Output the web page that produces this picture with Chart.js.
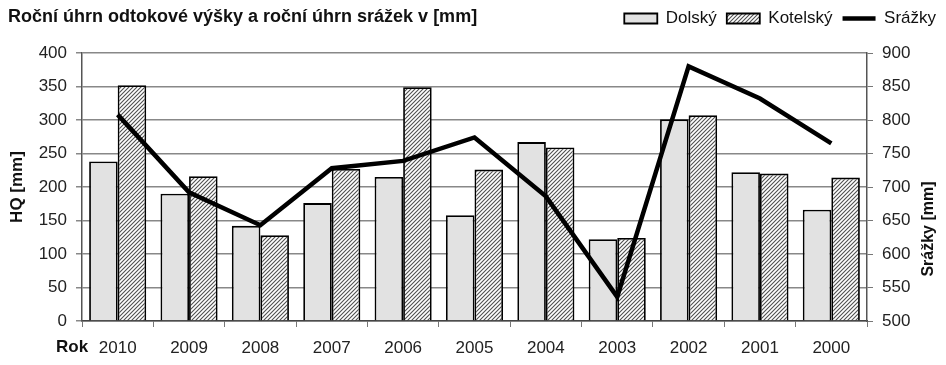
<!DOCTYPE html>
<html>
<head>
<meta charset="utf-8">
<script src="https://cdn.jsdelivr.net/npm/chart.js@4.4.0/dist/chart.umd.min.js"></script>
<style>
  html, body { margin: 0; padding: 0; background: #fff; }
  #wrap { width: 946px; height: 365px; position: relative; }
</style>
</head>
<body>
<div id="wrap"><canvas id="chart"></canvas></div>
<script>
// data
const years = ['2010', '2009', '2008', '2007', '2006', '2005', '2004', '2003', '2002', '2001', '2000'];
const dolsky = [238, 190, 142, 176, 215, 158, 267, 122, 301, 222, 166];
const kotelsky = [352, 216, 128, 227, 349, 226, 259, 124, 307, 220, 214];
const srazky = [808, 692, 643, 728, 739, 774, 686, 536, 880, 832, 765];

const FONT = "'Liberation Sans', Arial, sans-serif";

// hatched fill for Kotelský
function hatch() {
  const c = document.createElement('canvas');
  c.width = 4; c.height = 4;
  const x = c.getContext('2d');
  x.fillStyle = '#fff';
  x.fillRect(0, 0, 4, 4);
  x.strokeStyle = '#505050';
  x.lineWidth = 1.1;
  x.beginPath();
  x.moveTo(-1, 5); x.lineTo(5, -1);
  x.moveTo(-1, 1); x.lineTo(1, -1);
  x.moveTo(3, 5); x.lineTo(5, 3);
  x.stroke();
  return x.createPattern(c, 'repeat');
}
const hatchFill = hatch();

// keep the plot top at the same height as in the picture
const legendSpace = {
  id: 'legendSpace',
  beforeLayout(chart) {
    const lg = chart.legend;
    if (lg && !lg._patched) {
      const fit = lg.fit;
      lg.fit = function () { fit.call(this); this.height = 53; };
      lg._patched = true;
    }
  }
};

// texts that sit outside the chart.js boxes
const extraText = {
  id: 'extraText',
  afterDraw(chart) {
    const ctx = chart.ctx;
    ctx.save();
    ctx.fillStyle = '#111';
    ctx.textBaseline = 'alphabetic';
    ctx.textAlign = 'left';
    ctx.font = 'bold 18px ' + FONT;
    ctx.fillText('Roční úhrn odtokové výšky a roční úhrn srážek v [mm]', 8, 22);
    ctx.font = 'bold 17px ' + FONT;
    ctx.fillText('Rok', 56, 352);
    ctx.translate(929, 229);
    ctx.rotate(-Math.PI / 2);
    ctx.textAlign = 'center';
    ctx.textBaseline = 'middle';
    ctx.font = 'bold 16px ' + FONT;
    ctx.fillText('Srážky [mm]', 0, 0);
    ctx.restore();
  }
};

const ctx = document.getElementById('chart');
new Chart(ctx, {
  type: 'bar',
  data: {
    labels: years,
    datasets: [
      {
        label: 'Dolský',
        data: dolsky,
        backgroundColor: '#e2e2e2',
        borderColor: '#000',
        borderWidth: 1.8,
        pointStyle: 'rect',
        yAxisID: 'y',
        order: 1,
        categoryPercentage: 0.8,
        barPercentage: 1
      },
      {
        label: 'Kotelský',
        data: kotelsky,
        backgroundColor: hatchFill,
        borderColor: '#000',
        borderWidth: 1.8,
        pointStyle: 'rect',
        yAxisID: 'y',
        order: 1,
        categoryPercentage: 0.8,
        barPercentage: 1
      },
      {
        type: 'line',
        label: 'Srážky',
        data: srazky,
        borderColor: '#000',
        backgroundColor: '#000',
        borderWidth: 4.5,
        pointRadius: 0,
        pointStyle: 'line',
        tension: 0,
        yAxisID: 'y2',
        order: 0
      }
    ]
  },
  options: {
    responsive: true,
    maintainAspectRatio: false,
    animation: false,
    plugins: {
      tooltip: { enabled: false },
      legend: {
        position: 'top',
        align: 'end',
        labels: {
          usePointStyle: true,
          pointStyleWidth: 33,
          boxHeight: 10,
          padding: 10,
          color: '#111',
          font: { family: FONT, size: 17 },
          sort: (a, b) => a.datasetIndex - b.datasetIndex
        }
      }
    },
    scales: {
      x: {
        offset: true,
        grid: { offset: true, drawOnChartArea: false, color: '#777', tickLength: 6 },
        border: { color: '#444', width: 1.5 },
        ticks: { color: '#222', font: { family: FONT, size: 17 }, maxRotation: 0, padding: 11 },
        afterFit(s) { s.height = 44; }
      },
      y: {
        position: 'left',
        min: 0, max: 400,
        ticks: { stepSize: 50, color: '#222', font: { family: FONT, size: 17 }, padding: 9 },
        grid: { color: '#888', lineWidth: 1.5, tickLength: 6 },
        border: { color: '#555', width: 1.5 },
        title: { display: true, text: 'HQ [mm]', color: '#111', font: { family: FONT, size: 17, weight: 'bold' }, padding: 7 },
        afterFit(s) { s.width = 82; }
      },
      y2: {
        position: 'right',
        min: 500, max: 900,
        ticks: { stepSize: 50, color: '#222', font: { family: FONT, size: 17 }, padding: 9 },
        grid: { drawOnChartArea: false, color: '#777', tickLength: 6 },
        border: { color: '#555', width: 1.5 },
        afterFit(s) { s.width = 79; }
      }
    }
  },
  plugins: [legendSpace, extraText]
});
</script>
</body>
</html>
